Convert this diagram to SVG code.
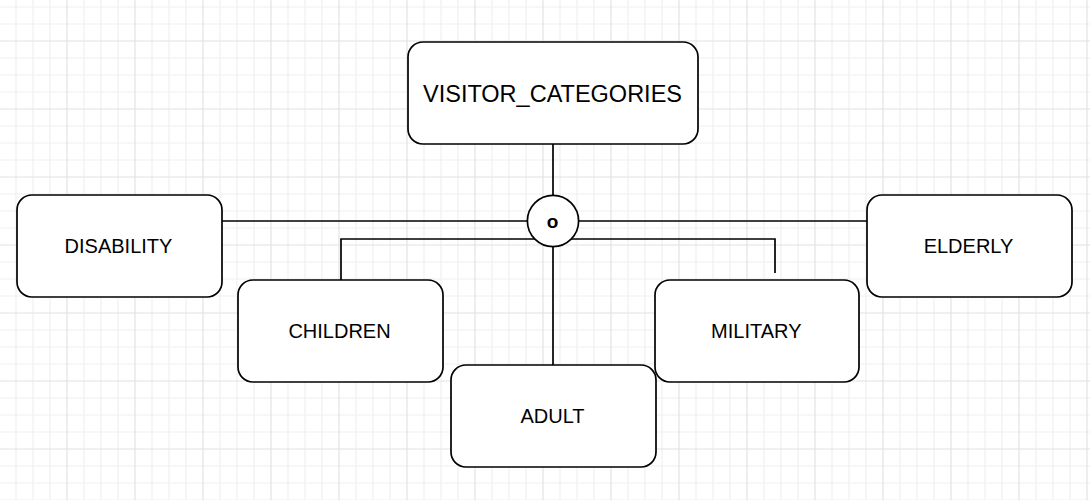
<svg xmlns="http://www.w3.org/2000/svg" width="1090" height="500" viewBox="0 0 1090 500">
  <defs>
    <pattern id="grid" patternUnits="userSpaceOnUse" x="-2" y="-28" width="68" height="68">
      <g stroke="#f0f0f0" stroke-width="1.2">
        <line x1="18" y1="0" x2="18" y2="68"/>
        <line x1="35" y1="0" x2="35" y2="68"/>
        <line x1="52" y1="0" x2="52" y2="68"/>
        <line x1="0" y1="18" x2="68" y2="18"/>
        <line x1="0" y1="35" x2="68" y2="35"/>
        <line x1="0" y1="52" x2="68" y2="52"/>
      </g>
      <g stroke="#e2e2e2" stroke-width="1.2">
        <line x1="1" y1="0" x2="1" y2="68"/>
        <line x1="0" y1="1" x2="68" y2="1"/>
      </g>
    </pattern>
    <style>
      .box { fill: #ffffff; stroke: #000000; stroke-width: 1.7; }
      .conn { fill: none; stroke: #000000; stroke-width: 1.7; }
      .lbl { font-family: "Liberation Sans", Arial, Helvetica, sans-serif; font-size: 20px; fill: #000000; text-anchor: middle; }
      .big { font-size: 23.5px; }
      .sym { font-weight: bold; font-size: 19px; }
    </style>
  </defs>
  <rect x="0" y="0" width="1090" height="500" fill="#ffffff"/>
  <rect x="0" y="0" width="1090" height="500" fill="url(#grid)"/>

  <g id="connectors">
    <line class="conn" x1="553" y1="144" x2="553" y2="196"/>
    <line class="conn" x1="222" y1="221" x2="528" y2="221"/>
    <line class="conn" x1="578" y1="221" x2="867" y2="221"/>
    <polyline class="conn" points="535,239 341,239 341,280"/>
    <polyline class="conn" points="571,239 775,239 775,273"/>
    <line class="conn" x1="553" y1="246" x2="553" y2="365"/>
  </g>

  <g id="visitor_categories">
    <rect class="box" x="408" y="42" width="290" height="102" rx="15" ry="15"/>
    <text class="lbl big" x="552.5" y="101.5">VISITOR_CATEGORIES</text>
  </g>
  <g id="disjoint">
    <circle class="box" cx="553" cy="221" r="25.6"/>
    <text class="lbl sym" x="552.5" y="227.5">o</text>
  </g>
  <g id="disability">
    <rect class="box" x="17" y="195" width="205" height="102" rx="15" ry="15"/>
    <text class="lbl" x="118.5" y="253.3">DISABILITY</text>
  </g>
  <g id="elderly">
    <rect class="box" x="867" y="195" width="205" height="102" rx="15" ry="15"/>
    <text class="lbl" x="968.5" y="253.3">ELDERLY</text>
  </g>
  <g id="children">
    <rect class="box" x="238" y="280" width="205" height="102" rx="15" ry="15"/>
    <text class="lbl" x="339.5" y="338.3">CHILDREN</text>
  </g>
  <g id="military">
    <rect class="box" x="655" y="280" width="204" height="102" rx="15" ry="15"/>
    <text class="lbl" x="756.3" y="338.3">MILITARY</text>
  </g>
  <g id="adult">
    <rect class="box" x="451" y="365" width="205" height="102" rx="15" ry="15"/>
    <text class="lbl" x="552.5" y="423">ADULT</text>
  </g>
</svg>
